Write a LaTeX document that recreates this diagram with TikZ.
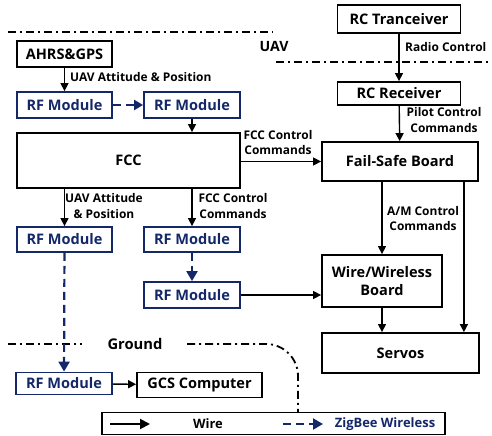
\documentclass[tikz,border=0pt]{standalone}
\usepackage{fontspec}
\setmainfont{Open Sans}
\usetikzlibrary{arrows.meta,calc}
\definecolor{navy}{RGB}{20,40,105}
\begin{document}
\begin{tikzpicture}[x=1bp,y=-1bp,
  font=\bfseries,
  box/.style={draw=black,line width=1.8bp,fill=white,inner sep=0pt,font=\fontsize{14.6}{16}\selectfont\bfseries},
  rfbox/.style={box,draw=navy,text=navy},
  lbl/.style={inner sep=0pt,font=\fontsize{12}{15.5}\selectfont\bfseries,align=center},
  wire/.style={line width=1.4bp,-{Triangle[length=8bp,width=8bp]}},
  zig/.style={draw=navy,line width=2.2bp,dash pattern=on 8bp off 5bp,-{Triangle[length=10bp,width=11bp]},navy},
  ddot/.style={line width=1.8bp,dash pattern=on 8bp off 4bp on 2bp off 4bp}
]
\useasboundingbox (0,0) rectangle (492,436);
% boundary lines
\draw[ddot] (8,32) -- (273,32);
\draw[ddot] (276,62) -- (492,62);
\node[lbl,font=\fontsize{14.2}{16}\selectfont\bfseries] (uav) at (274,47) {UAV};
\draw[ddot] (8,344) -- (82,344);
\node[lbl,font=\fontsize{14.8}{16}\selectfont\bfseries] (ground) at (135,344) {Ground};
\draw[ddot,rounded corners=32bp] (187,344) -- (298,344) -- (298,413);
% nodes
\node[box,minimum width=123bp,minimum height=28bp] (rct) at (399,19) {RC Tranceiver};
\node[box,minimum width=123bp,minimum height=23bp] (rcr) at (399,93.5) {RC Receiver};
\node[box,minimum width=95bp,minimum height=26bp] (ahrs) at (64.5,54) {AHRS\&GPS};
\node[rfbox,minimum width=95bp,minimum height=26bp] (rf1) at (64.5,105) {RF Module};
\node[rfbox,minimum width=96bp,minimum height=26bp] (rf2) at (192,105) {RF Module};
\node[box,minimum width=223bp,minimum height=55bp] (fcc) at (128.5,160.5) {FCC};
\node[box,minimum width=156bp,minimum height=39bp] (fsb) at (400,161.5) {Fail-Safe Board};
\node[rfbox,minimum width=95bp,minimum height=25bp] (rf3) at (64.5,239.5) {RF Module};
\node[rfbox,minimum width=96bp,minimum height=25bp] (rf4) at (192,239.5) {RF Module};
\node[rfbox,minimum width=96bp,minimum height=26bp] (rf5) at (192,295) {RF Module};
\node[box,minimum width=120bp,minimum height=52bp,align=center,font=\fontsize{14.6}{18.5}\selectfont\bfseries] (wwb) at (382,281) {Wire/Wireless\\Board};
\node[box,minimum width=157bp,minimum height=40bp] (servos) at (400.5,353) {Servos};
\node[rfbox,minimum width=96bp,minimum height=22bp] (rf6) at (64,383.5) {RF Module};
\node[box,minimum width=125bp,minimum height=25bp] (gcs) at (199.5,385) {GCS Computer};
% connectors
\draw[wire] (rct) -- (rcr);
\node[lbl,anchor=west] (lrc) at (405,47) {Radio Control};
\draw[wire] (rcr) -- (fsb);
\node[lbl] (lpc) at (444,120) {Pilot Control\\Commands};
\draw[wire] (ahrs) -- (rf1);
\node[lbl,anchor=west] (luap1) at (70,77) {UAV Attitude \& Position};
\draw[zig,-{Triangle[length=9bp,width=10bp]}] (rf1) -- (rf2);
\draw[wire] (rf2.south) -- (rf2.south |- fcc.north);
\draw[wire] (fcc.east |- fsb.west) -- (fsb.west);
\node[lbl] (lfcc1) at (278,142.5) {FCC Control\\Commands};
\draw[wire] (rf3.north |- fcc.south) -- (rf3.north);
\node[lbl] (luap2) at (104,206) {UAV Attitude\\\& Position};
\draw[wire] (rf4.north |- fcc.south) -- (rf4.north);
\node[lbl] (lfcc2) at (233,206) {FCC Control\\Commands};
\draw[zig] (rf4) -- (rf5);
\draw[wire] (rf5.east) -- (rf5.east -| wwb.west);
\draw[wire] (wwb.north |- fsb.south) -- (wwb.north);
\node[lbl] (lam) at (423,218.5) {A/M Control\\Commands};
\coordinate (fsbr) at ($(fsb.south east)+(-15,0)$);
\draw[wire] (fsbr) -- (fsbr |- servos.north);
\draw[wire] (wwb.south) -- (wwb.south |- servos.north);
\draw[zig] (rf3) -- (rf6);
\draw[wire] (rf6) -- (gcs);
% legend
\node[box,minimum width=343bp,minimum height=22bp] (legend) at (273.5,423.5) {};
\coordinate (la1) at (110,424);
\coordinate (la2) at (150,424);
\draw[wire,line width=2bp,-{Triangle[length=10bp,width=10bp]}] (la1) -- (la2);
\node[lbl,font=\fontsize{13}{15}\selectfont\bfseries] (lwire) at (208,424) {Wire};
\coordinate (lb1) at (283,424);
\coordinate (lb2) at (323,424);
\draw[zig] (lb1) -- (lb2);
\node[lbl,text=navy,font=\fontsize{13}{15}\selectfont\bfseries] (lzig) at (385,424) {ZigBee Wireless};
\end{tikzpicture}
\end{document}
